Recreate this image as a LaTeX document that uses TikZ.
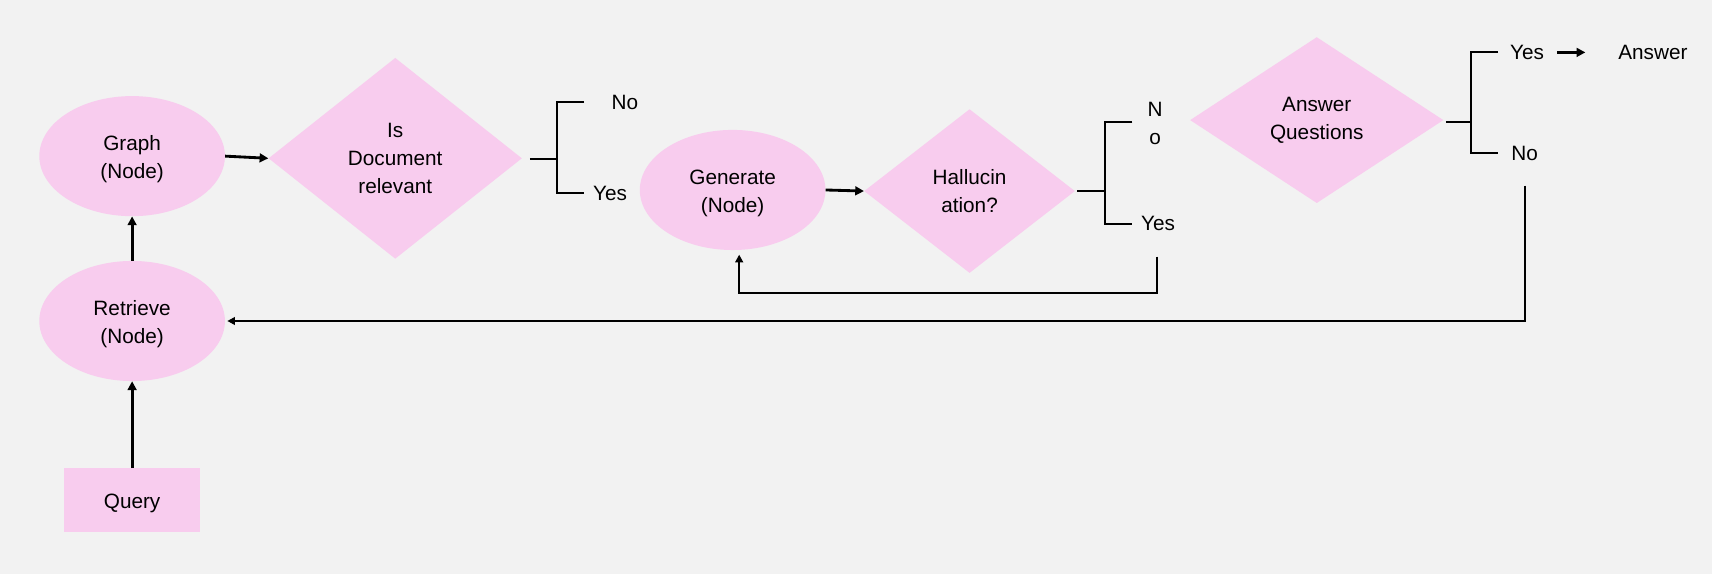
\documentclass[tikz,border=0pt]{standalone}
\usepackage{fontspec}
\setmainfont{Liberation Sans}
\usetikzlibrary{shapes.geometric,arrows.meta,calc}
\definecolor{bg}{HTML}{F2F2F2}
\definecolor{pinkfill}{HTML}{F8CCEE}
% invisible strut: a taller first line sets the text a little below the shape centre
\newcommand{\topstrut}{\rule{0pt}{20pt}}
\begin{document}
\begin{tikzpicture}[x=1pt,y=-1pt,
  every node/.style={font=\fontsize{19}{25.5}\selectfont, align=center, text=black},
  oval/.style={ellipse, fill=pinkfill, minimum width=170pt, minimum height=110pt, inner sep=0pt},
  decision/.style={diamond, fill=pinkfill, inner sep=0pt},
  boxnode/.style={rectangle, fill=pinkfill, minimum width=124pt, minimum height=58pt, inner sep=0pt},
  lbl/.style={inner sep=0pt, anchor=west},
  wire/.style={draw=black, line width=1.8pt},
  thinarrow/.style={wire, -{Triangle[length=7pt,width=7pt]}},
  thickarrow/.style={draw=black, line width=2.6pt, -{Triangle[length=8pt,width=8pt]}}
]
\useasboundingbox (0,0) rectangle (1568,526);
\fill[bg] (0,0) rectangle (1568,526);

% main flow nodes
\node[oval] (graph) at (121,143) {\topstrut Graph\\(Node)};
\node[oval] (retrieve) at (121,294) {\topstrut Retrieve\\(Node)};
\node[boxnode] (query) at (121,458) {\topstrut Query};
\node[decision, minimum width=232pt, minimum height=184pt] (relevant) at (362,145) {Is\\Document\\relevant};
\node[oval] (generate) at (671,174) {\topstrut Generate\\(Node)};
\node[decision, minimum width=193pt, minimum height=150pt] (halluc) at (888,175) {Hallucin\\ation?};
\node[decision, minimum width=232pt, minimum height=152pt] (answerq) at (1206,110) {Answer\\Questions};

% branch labels
\node[lbl] (relNo) at (560,94) {No};
\node[lbl] (relYes) at (543,177) {Yes};
\node[inner sep=0pt] (halNo) at (1058,113) {N\\o};
\node[lbl] (halYes) at (1045,205) {Yes};
\node[lbl] (ansYes) at (1383,48) {Yes};
\node[lbl] (ansNo) at (1384,141) {No};
\node[lbl] (answer) at (1482,48) {Answer};

% straight arrows
\draw[thickarrow] (query.north) -- (retrieve.south);
\draw[thickarrow] (retrieve.north) -- (graph.south);
\draw[thickarrow] (graph.east) -- (relevant.west);
\draw[thickarrow] (generate.east) -- (halluc.west);
\draw[thickarrow] (ansYes.east) ++(12,0) coordinate (ya) -- ($(answer.west)+(-30,0)$);

% branch brackets
\coordinate (b1) at (510,146);
\draw[wire] ($(relevant.east)+(7,1)$) -- (b1);
\draw[wire] (535,93) -- (510,93) -- (510,177) -- (535,177);

\coordinate (b2) at (1012,175);
\draw[wire] ($(halluc.east)+(2,0)$) -- (b2);
\draw[wire] (1037,112) -- (1012,112) -- (1012,205) -- (1037,205);

\coordinate (b3) at (1347,112);
\draw[wire] ($(answerq.east)+(2,2)$) -- (b3);
\draw[wire] (1372,48) -- (1347,48) -- (1347,140) -- (1372,140);

% feedback loops
\coordinate (halLoop) at (1060,235);
\draw[thinarrow] (halLoop) -- (1060,268) -- (677,268) -- ($(generate.south)+(6,4)$);

\coordinate (ansLoop) at (1397,170);
\draw[thinarrow] (ansLoop) -- (1397,294) -- ($(retrieve.east)+(2,0)$);
\end{tikzpicture}
\end{document}
